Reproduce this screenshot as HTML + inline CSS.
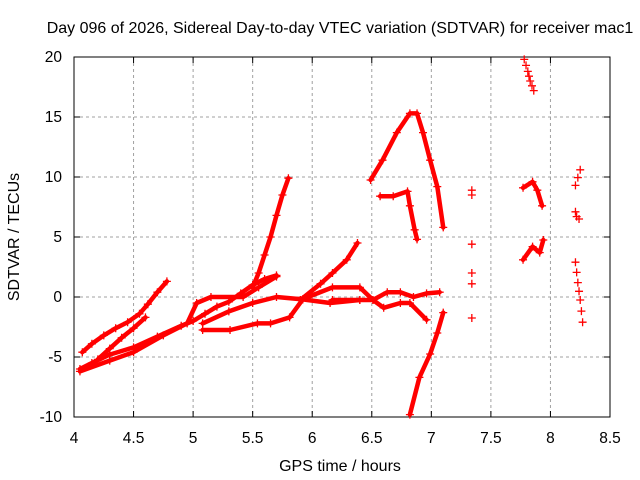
<!DOCTYPE html>
<html><head><meta charset="utf-8"><style>
body{margin:0;background:#fff}
svg{display:block;font-family:"Liberation Sans",sans-serif}
</style></head><body>
<svg id="chart" width="640" height="480"></svg>
<script>
const xTicks=[4,4.5,5,5.5,6,6.5,7,7.5,8,8.5];
const yTicks=[-10,-5,0,5,10,15,20];
const s1=[[4.07,-4.6],[4.15,-3.9],[4.25,-3.2],[4.35,-2.6],[4.45,-2.1],[4.55,-1.4],[4.62,-0.6],[4.7,0.4],[4.78,1.3]];
const s2=[[4.2,-5.2],[4.3,-4.3],[4.4,-3.4],[4.5,-2.6],[4.6,-1.7]];
const s3=[[4.05,-6],[4.15,-5.5],[4.3,-4.8],[4.5,-4.2],[4.7,-3.3],[4.9,-2.4],[5.0,-2.0],[5.1,-1.4],[5.2,-0.8],[5.3,-0.4],[5.4,0.3],[5.5,1.0],[5.6,1.5],[5.7,1.8]];
const s4=[[4.05,-6.2],[4.3,-5.3],[4.5,-4.6],[4.75,-3.2],[4.95,-2.2],[5.03,-0.5],[5.15,0],[5.42,0],[5.55,0.8],[5.7,1.7]];
const s5=[[5.5,0.8],[5.55,2],[5.6,3.5],[5.65,5],[5.7,6.8],[5.75,8.5],[5.8,9.9]];
const s6=[[5.08,-2.2],[5.3,-1.2],[5.5,-0.5],[5.7,0],[5.92,-0.2],[6.15,-0.5],[6.4,-0.25]];
const s7=[[5.08,-2.75],[5.31,-2.75],[5.54,-2.2],[5.65,-2.2],[5.81,-1.7],[5.92,-0.2]];
const s8=[[5.9,-0.25],[6.07,1.1],[6.17,2],[6.29,3.1],[6.38,4.5]];
const s9=[[5.9,-0.25],[6.17,0.8],[6.4,0.8],[6.51,-0.25],[6.63,0.4],[6.74,0.4],[6.85,0],[6.96,0.3],[7.07,0.4]];
const s10=[[6.17,-0.25],[6.4,-0.25],[6.51,-0.25],[6.6,-0.9],[6.74,-0.5],[6.82,-0.5],[6.96,-1.9]];
const s11=[[6.49,9.75],[6.59,11.4],[6.71,13.7],[6.82,15.3],[6.88,15.3],[6.93,13.7],[6.99,11.4],[7.05,9.2],[7.1,5.8]];
const s12=[[6.57,8.4],[6.68,8.4],[6.8,8.8],[6.82,7.6],[6.86,5.6],[6.88,4.8]];
const s13=[[6.82,-9.8],[6.9,-6.7],[6.99,-4.75],[7.05,-3],[7.1,-1.3]];
const s14=[[7.34,8.9],[7.34,8.5],[7.34,4.4],[7.34,2],[7.34,1.1],[7.34,-1.75]];
const s15=[[7.78,19.8],[7.81,18.8],[7.83,18],[7.86,17.2]];
const s16=[[7.77,9.1],[7.85,9.6],[7.89,8.9],[7.93,7.6]];
const s17=[[7.77,3.1],[7.85,4.2],[7.91,3.7],[7.94,4.75]];
const s18=[[8.21,9.3],[8.25,10.6]];
const s19=[[8.21,7.1],[8.22,6.7],[8.24,6.5]];
const s20=[[8.21,2.9],[8.23,1.2],[8.25,-0.25],[8.27,-2.1]];
const denseSeries=[s1,s2,s3,s4,s5,s6,s7,s8,s9,s10,s11,s12,s13,s16,s17];
const pointSeries=[s14,s19];
const trailSeries=[s15,s18,s20];

const L=74,R=610,T=57,B=417;
const X=v=>L+(v-4)/4.5*(R-L);
const Y=v=>B-(v+10)/30*(B-T);
const svg=document.getElementById('chart');
const NS='http://www.w3.org/2000/svg';
function mk(t,a,p){const e=document.createElementNS(NS,t);for(const k in a)e.setAttribute(k,a[k]);(p||svg).appendChild(e);return e;}

xTicks.forEach(v=>{
  if(v>4&&v<8.5){const g=mk('line',{x1:X(v),x2:X(v),y1:T,y2:B,stroke:'#a0a0a0','stroke-dasharray':'3,3'});
  
  }
  mk('line',{x1:X(v),x2:X(v),y1:B,y2:B-6,stroke:'#000'});
  mk('line',{x1:X(v),x2:X(v),y1:T,y2:T+6,stroke:'#000'});
  const t=mk('text',{x:X(v),y:B+26,'text-anchor':'middle','font-size':15.5});t.textContent=v;
  
  
});
yTicks.forEach(v=>{
  if(v>-10&&v<20){const g=mk('line',{x1:L,x2:R,y1:Y(v),y2:Y(v),stroke:'#a0a0a0','stroke-dasharray':'3,3'});
  
  }
  mk('line',{x1:L,x2:L+6,y1:Y(v),y2:Y(v),stroke:'#000'});
  mk('line',{x1:R,x2:R-6,y1:Y(v),y2:Y(v),stroke:'#000'});
  const t=mk('text',{x:L-12,y:Y(v)+5,'text-anchor':'end','font-size':15.5});t.textContent=v;
  
  
});
const fr=mk('rect',{x:L,y:T,width:R-L,height:B-T,fill:'none',stroke:'#000','stroke-width':1});



function plus(x,y){mk('path',{d:`M${x-4},${y}h8M${x},${y-4}v8`,stroke:'#f00','stroke-width':1.3});}
denseSeries.forEach(s=>{
  const pl=mk('polyline',{points:s.map(p=>X(p[0])+','+Y(p[1])).join(' '),fill:'none',stroke:'#f00','stroke-width':4.5,'stroke-linejoin':'round','stroke-linecap':'round'});
  
  
  s.forEach(p=>plus(X(p[0]),Y(p[1])));
});
pointSeries.forEach(s=>s.forEach(p=>plus(X(p[0]),Y(p[1]))));
trailSeries.forEach(s=>{
  s.forEach((p,i)=>{plus(X(p[0]),Y(p[1]));
    if(i<s.length-1){const q=s[i+1];plus((X(p[0])+X(q[0]))/2,(Y(p[1])+Y(q[1]))/2);}});
});

const title=mk('text',{x:340,y:33,'text-anchor':'middle','font-size':16});
title.textContent='Day 096 of 2026, Sidereal Day-to-day VTEC variation (SDTVAR) for receiver mac1';


const xl=mk('text',{x:340,y:471,'text-anchor':'middle','font-size':16});
xl.textContent='GPS time / hours';


const yl=mk('text',{x:19,y:237,'text-anchor':'middle','font-size':16,transform:'rotate(-90 19 237)'});
yl.textContent='SDTVAR / TECUs';


</script>
</body></html>
